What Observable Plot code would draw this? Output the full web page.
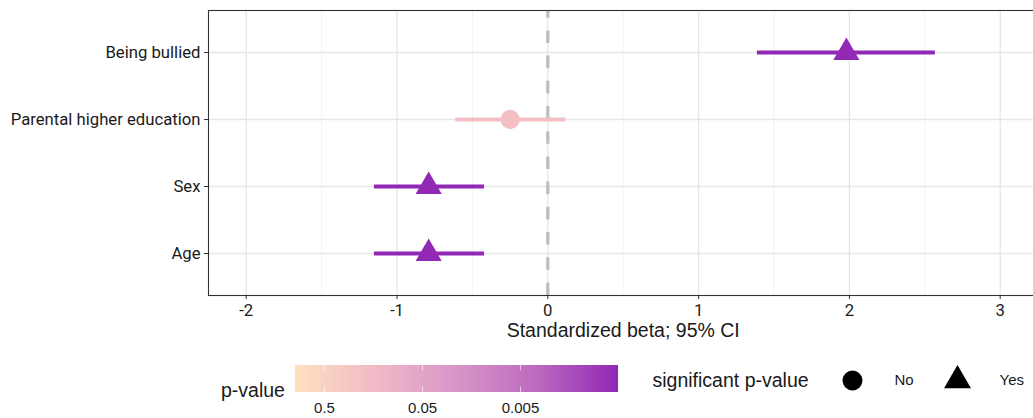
<!DOCTYPE html>
<html>
<head>
<meta charset="utf-8">
<script src="https://cdn.jsdelivr.net/npm/d3@7"></script>
<script src="https://cdn.jsdelivr.net/npm/@observablehq/plot@0.6"></script>
<style>
  body { margin: 0; background: #fff; }
  #wrap { position: relative; width: 1033px; height: 418px; overflow: hidden; background: #fff; }
  #wrap > * { position: absolute; }
  .ptitle { font-family: "Liberation Sans", Arial, sans-serif; font-size: 19.5px; line-height: 19.5px; color: #1a1a1a; white-space: nowrap; }
</style>
</head>
<body>
<div id="wrap"></div>
<script>
// ---- data ----
const predictors = ["Being bullied", "Parental higher education", "Sex", "Age"];
const beta   = [1.98, -0.25, -0.79, -0.79];
const ciLow  = [1.39, -0.61, -1.15, -1.15];
const ciHigh = [2.57,  0.12, -0.42, -0.42];
const pValues = [0.0001, 0.19, 0.0001, 0.0001];
const xTicks = [-2, -1, 0, 1, 2, 3];
const xMinorTicks = [-1.5, -0.5, 0.5, 1.5, 2.5];
const xLimits = [-2.25, 3.25];
const pTicks = [0.5, 0.05, 0.005];
const pLimits = [1, 0.00049];
const gradientStops = ["#ffe0c0", "#f0bac6", "#d896c8", "#bd6abf", "#9129b5"];
const sigLabels = ["No", "Yes"];
const sigSymbols = ["circle", "triangle"];

// colour is mapped on -log10(p), labelled in p
const negLog = p => -Math.log10(p);
const rows = predictors.map((d, i) => ({
  predictor: d, beta: beta[i], lo: ciLow[i], hi: ciHigh[i], pval: pValues[i],
  nlp: negLog(pValues[i]),
  sig: pValues[i] < 0.05 ? "Yes" : "No"
}));

const colorScale = {
  type: "linear",
  domain: pLimits.map(negLog),
  interpolate: d3.piecewise(d3.interpolateRgb, gradientStops),
  clamp: true
};

const wrap = document.getElementById("wrap");

// ---- main chart ----
const main = Plot.plot({
  width: 1033,
  height: 342,
  marginLeft: 208,
  marginRight: -4.4,
  marginTop: 10,
  marginBottom: 47,
  style: { fontFamily: "Roboto, sans-serif", fontSize: "16.7px", color: "#1a1a1a", background: "white", overflow: "hidden" },
  x: { domain: xLimits },
  y: { type: "point", domain: predictors, padding: 0.6 },
  color: colorScale,
  symbol: { domain: sigLabels, range: sigSymbols },
  marks: [
    Plot.ruleX(xMinorTicks, { stroke: "#ececec", strokeWidth: 0.7 }),
    Plot.ruleX(xTicks, { stroke: "#e6e6e6", strokeWidth: 1.3 }),
    Plot.ruleY(predictors, { stroke: "#e6e6e6", strokeWidth: 1.3 }),
    Plot.ruleX([0], { stroke: "#bdbdbd", strokeWidth: 3.2, strokeDasharray: "12.6,12.6", strokeDashoffset: 4.8 }),
    Plot.ruleY(rows, { y: "predictor", x1: "lo", x2: "hi", stroke: "nlp", strokeWidth: 4 }),
    Plot.dot(rows, { x: "beta", y: "predictor", fill: "nlp", symbol: "sig", r: 9.7, stroke: null }),
    Plot.frame({ stroke: "#333333", strokeWidth: 1.1 }),
    Plot.axisX({ ticks: xTicks, tickSize: 4, tickPadding: 5, stroke: "#333333", label: null, tickFormat: d => String(d) }),
    Plot.axisY({ tickSize: 4, tickPadding: 4, stroke: "#333333", label: null }),
    Plot.text(["Standardized beta; 95% CI"], {
      frameAnchor: "bottom", lineAnchor: "middle", dy: 35,
      fontFamily: "Liberation Sans, Arial, sans-serif", fontSize: 19.5, fill: "#1a1a1a"
    })
  ]
});
main.style.left = "0px";
main.style.top = "0px";
wrap.appendChild(main);

// ---- colour legend ----
const pTitle = document.createElement("div");
pTitle.className = "ptitle";
pTitle.textContent = "p-value";
pTitle.style.left = "221px";
pTitle.style.top = "380.5px";
wrap.appendChild(pTitle);

const ramp = Plot.legend({
  color: colorScale,
  width: 333,
  height: 53,
  marginLeft: 5,
  marginRight: 5,
  marginTop: 2,
  marginBottom: 24,
  tickSize: 0,
  ticks: pTicks.map(negLog),
  tickFormat: d => String(+Math.pow(10, -d).toPrecision(1)),
  label: null,
  style: { fontFamily: "Liberation Sans, Arial, sans-serif", fontSize: "15px", color: "#1a1a1a", background: "transparent" }
});
ramp.style.left = "290px";
ramp.style.top = "363px";
wrap.appendChild(ramp);
const rsel = d3.select(ramp);
rsel.selectAll(".tick line")
  .attr("y1", -27).attr("y2", 0)
  .attr("stroke", "white").attr("stroke-opacity", 0.6).attr("stroke-width", 1)
  .attr("stroke-dasharray", "5.4,16.2,5.4");
rsel.selectAll(".tick text").attr("y", 10.5).attr("fill", "#1a1a1a");

// ---- symbol legend ----
const shapes = Plot.plot({
  width: 403,
  height: 76,
  margin: 0,
  style: { fontFamily: "Liberation Sans, Arial, sans-serif", fontSize: "15px", color: "#1a1a1a", background: "transparent" },
  x: { type: "point", domain: sigLabels, range: [222, 327], padding: 0, axis: null },
  symbol: { domain: sigLabels, range: sigSymbols },
  marks: [
    Plot.text(["significant p-value"], { frameAnchor: "left", dx: 22, textAnchor: "start", fontSize: 19.5, fill: "#1a1a1a" }),
    Plot.dot(sigLabels, { x: d => d, symbol: d => d, r: 10, fill: "black", stroke: null }),
    Plot.text(sigLabels, { x: d => d, text: d => d, dx: 42, textAnchor: "start", fill: "#1a1a1a" })
  ]
});
shapes.style.left = "630px";
shapes.style.top = "342px";
wrap.appendChild(shapes);
</script>
</body>
</html>
